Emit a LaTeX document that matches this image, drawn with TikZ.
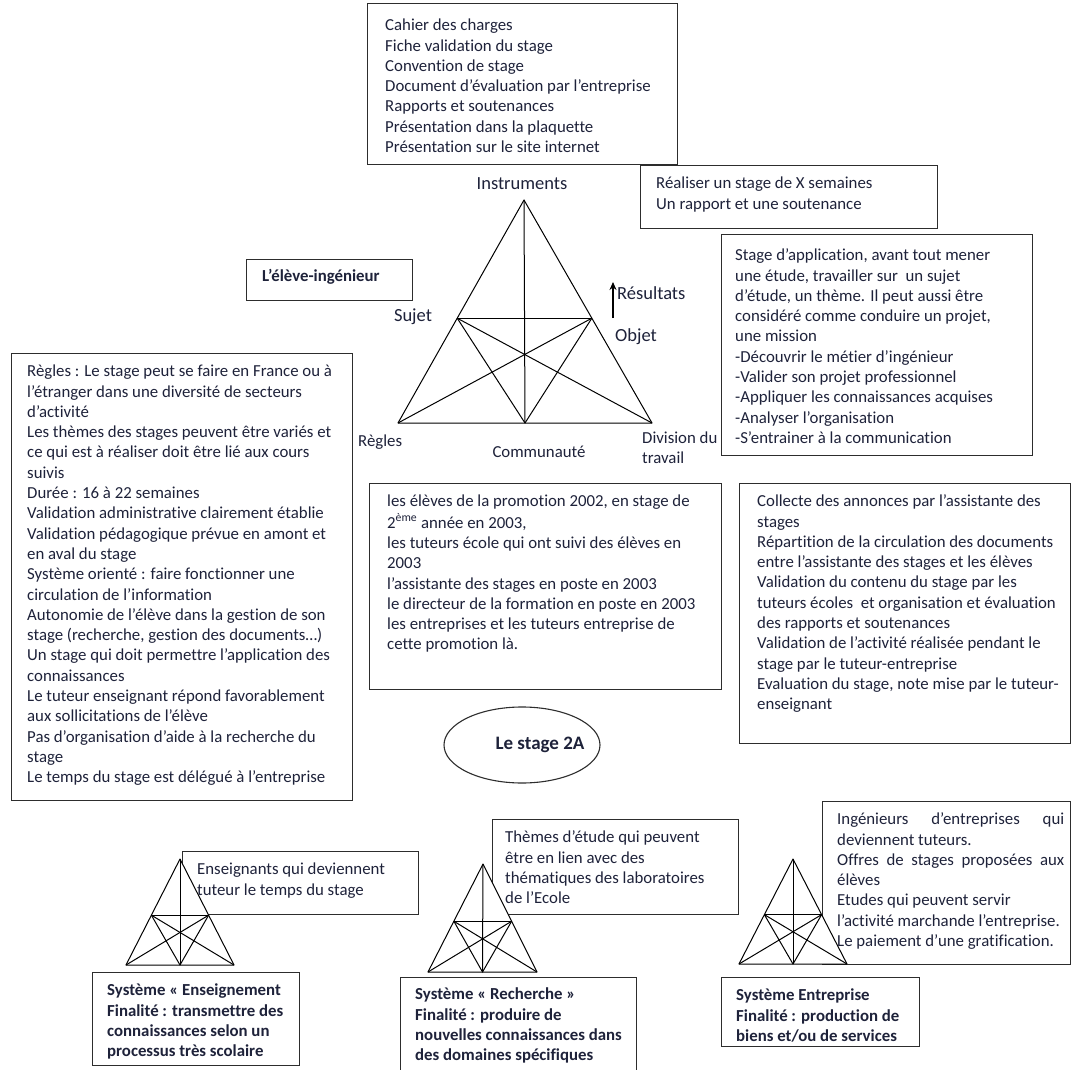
\documentclass[tikz,border=0pt]{standalone}
\usepackage{fontspec}
\setmainfont{Carlito}[Ligatures=NoCommon]
\usetikzlibrary{calc,arrows.meta,shapes.geometric}
\definecolor{ink}{RGB}{30,34,58}
\definecolor{edge}{RGB}{45,45,45}
\tikzset{
  box/.style={draw=edge, line width=1.1pt, inner sep=0pt, anchor=north west},
  txt/.style={text=ink, font=\fontsize{16.8}{20.3}\selectfont, align=left, inner sep=0pt, anchor=north west},
  btxt/.style={text=ink, font=\fontsize{16.8}{20.3}\selectfont\bfseries, align=left, inner sep=0pt, anchor=north west},
  lbl/.style={text=ink, font=\fontsize{18.5}{22}\selectfont, inner sep=0pt},
  slbl/.style={text=ink, font=\fontsize{16.8}{20}\selectfont, inner sep=0pt, align=left},
  tri/.style={draw=black, line width=1pt, line join=round},
}
\newcommand{\startri}[4]{%
  \coordinate (#1A) at #2; \coordinate (#1L) at #3; \coordinate (#1R) at #4;
  \coordinate (#1M) at ($(#1L)!0.5!(#1R)$);
  \coordinate (#1S) at ($(#1A)!0.53!(#1L)$);
  \coordinate (#1O) at ($(#1A)!0.53!(#1R)$);
  \fill[white] (#1A) -- (#1L) -- (#1R) -- cycle;
  \draw[tri] (#1A) -- (#1L) -- (#1R) -- cycle;
  \draw[tri] (#1S) -- (#1O);
  \draw[tri] (#1A) -- (#1M);
  \draw[tri] (#1S) -- (#1R);
  \draw[tri] (#1O) -- (#1L);
  \draw[tri] (#1S) -- (#1M) -- (#1O);
}
\newcommand{\bx}[5]{\node[box, minimum width=#4-#2, minimum height=#5-#3] (#1) at (#2,#3) {};}
\begin{document}
\begin{tikzpicture}[x=1pt,y=-1pt]
\useasboundingbox (0,0) rectangle (1072,1070);
\fill[white] (0,0) rectangle (1072,1070);

% boxes
\bx{bA}{367}{3}{677}{164}
\bx{bB}{640}{165}{937}{228}
\bx{bC}{721}{234}{1032}{455}
\bx{bD}{246}{259}{412}{300}
\bx{bE}{11}{353}{352}{800}
\bx{bF}{369}{483}{721}{689}
\bx{bG}{739}{483}{1070}{743}
\bx{bT1}{182}{851}{418}{914}
\bx{bT2}{492}{819}{738}{914}
\bx{bT3}{822}{801}{1070}{964}
\bx{bS1}{92}{972}{299}{1065}
\bx{bS2}{400}{977}{636}{1085}
\bx{bS3}{721}{977}{919}{1046}

% main triangle
\startri{m}{(524,200)}{(398,423)}{(652,423)}
% small triangles
\startri{p}{(180,859)}{(126,965)}{(234,965)}
\startri{q}{(483,864)}{(428,972)}{(537,972)}
\startri{r}{(793,859)}{(739,964)}{(847,964)}

% triangle labels
\node[lbl] (instr) at (522,184) {Instruments};
\node[lbl] (sujet) at (413,317) {Sujet};
\node[lbl] (objet) at (636,337) {Objet};
\node[lbl, anchor=west] (res) at (617,293) {Résultats};
\coordinate (resA) at (613,318);
\coordinate (resB) at (613,282);
\draw[-{Stealth[length=8pt,width=7pt]}, line width=1.4pt, black] (resA) -- (resB);
\node[slbl, anchor=west] (regles) at (358,442) {Règles};
\node[slbl] (commu) at (539,452) {Communauté};
\node[slbl, anchor=north west] (divis) at (642,432) {Division du\\travail};

% ellipse
\node[draw=edge, line width=1.1pt, ellipse, minimum width=156pt, minimum height=76pt, inner sep=0pt] (stage) at (522,745) {};
\node[text=ink, font=\fontsize{19}{22}\selectfont\bfseries, inner sep=0pt] (stagelbl) at (540,745) {Le stage 2A};

% texts
\node[txt] (tA) at (385,16.3) {\strut Cahier des charges\\Fiche validation du stage\\Convention de stage\\Document d’évaluation par l’entreprise\\Rapports et soutenances\\Présentation dans la plaquette\\Présentation sur le site internet};
\node[txt] (tB) at (656,174.3) {\strut Réaliser un stage de X semaines\\Un rapport et une soutenance};
\node[txt] (tC) at (735,246.3) {\strut Stage d’application, avant tout mener\\une étude, travailler sur\ \ un sujet\\d’étude, un thème. Il peut aussi être\\considéré comme conduire un projet,\\une mission\\-Découvrir le métier d’ingénieur\\-Valider son projet professionnel\\-Appliquer les connaissances acquises\\-Analyser l’organisation\\-S’entrainer à la communication};
\node[btxt] (tD) at (262,267.3) {\strut L’élève-ingénieur};
\node[txt] (tE) at (27,362.3) {\strut Règles : Le stage peut se faire en France ou à\\l’étranger dans une diversité de secteurs\\d’activité\\Les thèmes des stages peuvent être variés et\\ce qui est à réaliser doit être lié aux cours\\suivis\\Durée : 16 à 22 semaines\\Validation administrative clairement établie\\Validation pédagogique prévue en amont et\\en aval du stage\\Système orienté : faire fonctionner une\\circulation de l’information\\Autonomie de l’élève dans la gestion de son\\stage (recherche, gestion des documents…)\\Un stage qui doit permettre l’application des\\connaissances\\Le tuteur enseignant répond favorablement\\aux sollicitations de l’élève\\Pas d’organisation d’aide à la recherche du\\stage\\Le temps du stage est délégué à l’entreprise};
\node[txt] (tF) at (387,492.3) {\strut les élèves de la promotion 2002, en stage de\\2\textsuperscript{ème} année en 2003,\\les tuteurs école qui ont suivi des élèves en\\2003\\l’assistante des stages en poste en 2003\\le directeur de la formation en poste en 2003\\les entreprises et les tuteurs entreprise de\\cette promotion là.};
\node[txt] (tG) at (757,492.3) {\strut Collecte des annonces par l’assistante des\\stages\\Répartition de la circulation des documents\\entre l’assistante des stages et les élèves\\Validation du contenu du stage par les\\tuteurs écoles\ \ et organisation et évaluation\\des rapports et soutenances\\Validation de l’activité réalisée pendant le\\stage par le tuteur-entreprise\\Evaluation du stage, note mise par le tuteur-\\enseignant};
\node[txt] (tT1) at (197,860.3) {\strut Enseignants qui deviennent\\tuteur le temps du stage};
\node[txt] (tT2) at (505,828.3) {\strut Thèmes d’étude qui peuvent\\être en lien avec des\\thématiques des laboratoires\\de l’Ecole};
\node[txt] (tT3) at (837,810.3) {\strut\hbox to 227pt{Ingénieurs\hfill d’entreprises\hfill qui}\\deviennent tuteurs.\\\hbox to 227pt{Offres\hfill de\hfill stages\hfill proposées\hfill aux}\\élèves\\Etudes qui peuvent servir\\l’activité marchande l’entreprise.\\Le paiement d’une gratification.};
\begin{scope}
\clip (92,972) rectangle (299,1061);
\node[btxt] (tS1) at (107,981.3) {\strut Système « Enseignement\\Finalité : transmettre des\\connaissances selon un\\processus très scolaire};
\end{scope}
\node[btxt] (tS2) at (415,985.3) {\strut Système « Recherche »\\Finalité : produire de\\nouvelles connaissances dans\\des domaines spécifiques};
\node[btxt] (tS3) at (736,986.3) {\strut Système Entreprise\\Finalité : production de\\biens et/ou de services};
\end{tikzpicture}
\end{document}
